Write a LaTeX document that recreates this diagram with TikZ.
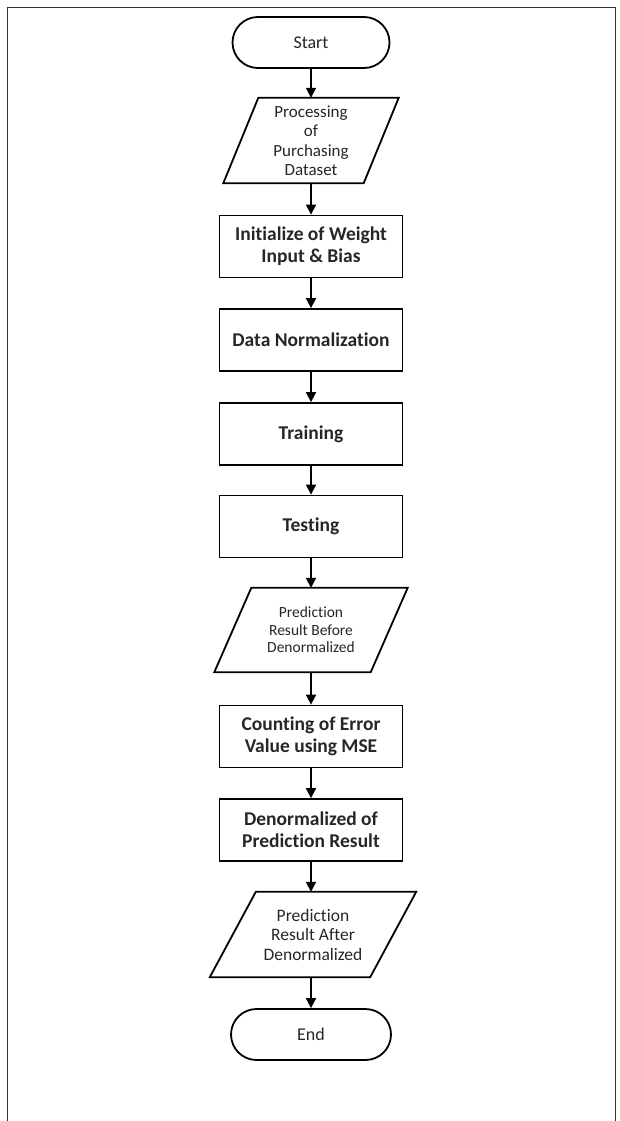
\documentclass[tikz,border=0pt]{standalone}
\usepackage{fontspec}
\setmainfont{Carlito}[Ligatures=NoCommon]
\usetikzlibrary{shapes.misc,arrows.meta}
\newcommand\drawpara[2]{%
  \draw[line width=1.8pt, line join=miter]
    ([xshift=#2/2]#1.north west) -- ([xshift=#2/2]#1.north east) --
    ([xshift=-#2/2]#1.south east) -- ([xshift=-#2/2]#1.south west) -- cycle;}
\begin{document}
\begin{tikzpicture}[x=1pt,y=-1pt,
  every node/.style={text=black!85},
  term/.style={draw, line width=1.8pt, rounded rectangle, minimum width=157pt,
    minimum height=51pt, inner sep=0pt, font=\fontsize{18}{20}\selectfont},
  procbox/.style={draw, line width=1.8pt, rectangle, minimum width=183pt,
    minimum height=62pt, inner sep=0pt, align=center,
    font=\bfseries\fontsize{19.5}{22}\selectfont},
  iobox/.style={rectangle, inner sep=0pt, align=center},
  flow/.style={-{Triangle[length=10pt,width=10pt]}, line width=1.8pt}]
\useasboundingbox (0,0) rectangle (620,1121);
\draw[line width=1.5pt, black!80] (7.5,1121) -- (7.5,7.5) -- (615.5,7.5) -- (615.5,1121);

\node[term] (start) at (311,42.5) {Start};
\node[iobox, minimum width=140pt, minimum height=85pt,
  font=\fontsize{17}{19.5}\selectfont] (p1) at (311,140.5)
  {Processing\\of\\Purchasing\\Dataset};
\drawpara{p1}{35pt}
\node[procbox] (b1) at (311,246.5) {Initialize of Weight\\Input \& Bias};
\node[procbox] (b2) at (311,340) {Data Normalization};
\node[procbox] (b3) at (311,434) {Training};
\node[procbox] (b4) at (311,526.5) {Testing};
\node[iobox, minimum width=156pt, minimum height=84pt,
  font=\fontsize{15.5}{17.5}\selectfont] (p2) at (311,630)
  {Prediction\\Result Before\\Denormalized};
\drawpara{p2}{37pt}
\node[procbox] (b5) at (311,736.5) {Counting of Error\\Value using MSE};
\node[procbox] (b6) at (311,830) {Denormalized of\\Prediction Result};
\node[iobox, minimum width=160pt, minimum height=85pt,
  font=\fontsize{17.5}{19.5}\selectfont] (p3) at (313,934.5)
  {Prediction\\Result After\\Denormalized};
\drawpara{p3}{46pt}
\node[term, minimum width=160pt] (end) at (311,1034.5) {End};

\draw[flow] (start) -- (p1);
\draw[flow] (p1) -- (b1);
\draw[flow] (b1) -- (b2);
\draw[flow] (b2) -- (b3);
\draw[flow] (b3) -- (b4);
\draw[flow] (b4) -- (p2);
\draw[flow] (p2) -- (b5);
\draw[flow] (b5) -- (b6);
\draw[flow] (b6.south) -- (b6.south |- p3.north);
\draw[flow] (p3.south -| end.north) -- (end.north);
\end{tikzpicture}
\end{document}
